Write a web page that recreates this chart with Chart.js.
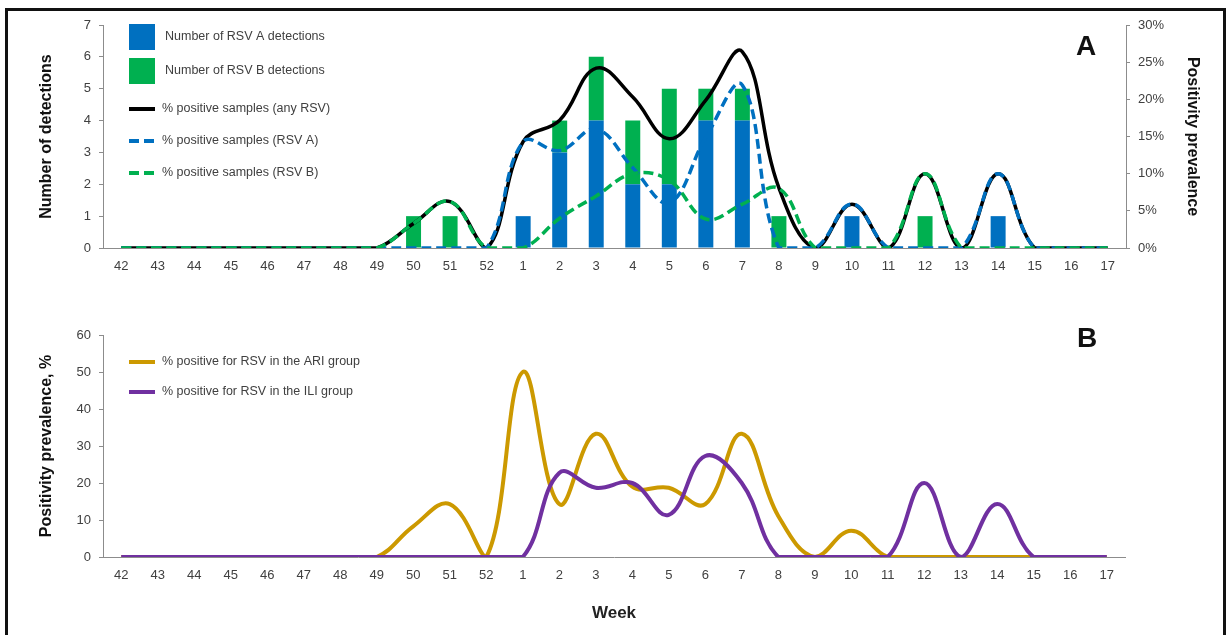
<!DOCTYPE html>
<html>
<head>
<meta charset="utf-8">
<script src="https://cdn.jsdelivr.net/npm/chart.js@4.4.0/dist/chart.umd.min.js"></script>
<style>
  body { margin: 0; background: #fff; width: 1227px; height: 635px; overflow: hidden; position: relative; }
  #frame { position: absolute; left: 5px; top: 8px; width: 1221px; height: 700px; border: 3px solid #111; box-sizing: border-box; }
  canvas { position: absolute; left: 0; }
  #chartA { top: 0; }
  #chartB { top: 290px; }
</style>
</head>
<body>
<div id="frame"></div>
<canvas id="chartA" width="1227" height="290"></canvas>
<canvas id="chartB" width="1227" height="345"></canvas>
<script>
// week labels (42..52 then 1..17)
const weeks = ["42", "43", "44", "45", "46", "47", "48", "49", "50", "51", "52",
  "1", "2", "3", "4", "5", "6", "7", "8", "9", "10", "11", "12", "13", "14", "15", "16", "17"];

// panel A - detections (counts)
const rsvA = [0, 0, 0, 0, 0, 0, 0, 0, 0, 0, 0, 1, 3, 4, 2, 2, 4, 4, 0, 0, 1, 0, 0, 0, 1, 0, 0, 0];
const rsvB = [0, 0, 0, 0, 0, 0, 0, 0, 1, 1, 0, 0, 1, 2, 2, 3, 1, 1, 1, 0, 0, 0, 1, 0, 0, 0, 0, 0];

// panel A - % positive samples
const pctAny = [0, 0, 0, 0, 0, 0, 0, 0, 3.3, 6.25, 0, 14.3, 17.2, 24.2, 20.3, 14.7, 19.9, 26.4, 8.1, 0, 5.9, 0, 10, 0, 10, 0, 0, 0];
const pctA = [0, 0, 0, 0, 0, 0, 0, 0, 0, 0, 0, 14.3, 13.1, 16, 10.8, 6.1, 14.9, 21.9, 0, 0, 5.9, 0, 0, 0, 10, 0, 0, 0];
const pctB = [0, 0, 0, 0, 0, 0, 0, 0, 3.3, 6.25, 0, 0, 4, 7, 10, 9.1, 3.9, 5.9, 8, 0, 0, 0, 10, 0, 0, 0, 0, 0];

// panel B - % positive by group
const pctARI = [0, 0, 0, 0, 0, 0, 0, 0, 8.3, 14.3, 0, 50, 14.3, 33.3, 19, 18.7, 14.3, 33.3, 11.1, 0, 7.1, 0, 0, 0, 0, 0, 0, 0];
const pctILI = [0, 0, 0, 0, 0, 0, 0, 0, 0, 0, 0, 0, 22.7, 18.7, 20, 11.4, 27.3, 20, 0, 0, 0, 0, 20, 0, 14.3, 0, 0, 0];

const BLUE = "#0070C0";
const GREEN = "#00B050";
const GOLD = "#CC9900";
const PURPLE = "#7030A0";
const AXIS = "#8c8c8c";
const TICK = "#404040";
const FONT = "'Liberation Sans', Arial, sans-serif";

// draws the legend block and the panel letter at fixed spots
const panelDecor = {
  id: "panelDecor",
  afterDraw(chart, args, opts) {
    const ctx = chart.ctx;
    ctx.save();
    ctx.textBaseline = "middle";
    ctx.font = "12.5px " + FONT;
    opts.items.forEach((item) => {
      const ds = chart.data.datasets[item.ds];
      if (item.kind === "box") {
        ctx.fillStyle = ds.backgroundColor;
        ctx.fillRect(129, item.y - 13, 26, 26);
        ctx.fillStyle = TICK;
        ctx.fillText(ds.label, 165, item.y);
      } else {
        ctx.strokeStyle = ds.borderColor;
        ctx.lineWidth = 4;
        ctx.setLineDash(ds.borderDash || []);
        ctx.beginPath();
        ctx.moveTo(129, item.y);
        ctx.lineTo(155, item.y);
        ctx.stroke();
        ctx.setLineDash([]);
        ctx.fillStyle = TICK;
        ctx.fillText(ds.label, 162, item.y);
      }
    });
    ctx.fillStyle = "#111";
    ctx.font = "bold 28px " + FONT;
    ctx.textAlign = "center";
    ctx.fillText(opts.letter.text, opts.letter.x, opts.letter.y);
    ctx.restore();
  },
};

const lineSet = (label, data, color, dash, order, axis, width) => ({
  type: "line",
  label: label,
  data: data,
  borderColor: color,
  backgroundColor: color,
  borderWidth: width,
  borderDash: dash,
  pointRadius: 0,
  tension: 0.4,
  fill: false,
  order: order,
  yAxisID: axis,
});

const leftAxis = (title, max, step) => ({
  position: "left",
  min: 0,
  max: max,
  afterFit: (s) => { s.width = 66; },
  ticks: { stepSize: step, padding: 8, color: TICK, font: { size: 13, family: FONT } },
  grid: { drawOnChartArea: false, drawTicks: true, tickLength: 4, color: AXIS },
  border: { display: true, color: AXIS, width: 1 },
  title: { display: true, text: title, color: "#111", padding: 0, font: { size: 16, weight: "bold", family: FONT } },
});

new Chart(document.getElementById("chartA"), {
  type: "bar",
  data: {
    labels: weeks,
    datasets: [
      { label: "Number of RSV A detections", data: rsvA, backgroundColor: BLUE, barPercentage: 0.41, categoryPercentage: 1, order: 4, yAxisID: "y" },
      { label: "Number of RSV B detections", data: rsvB, backgroundColor: GREEN, barPercentage: 0.41, categoryPercentage: 1, order: 5, yAxisID: "y" },
      lineSet("% positive samples (any RSV)", pctAny, "#000", [], 3, "y1", 3.5),
      lineSet("% positive samples (RSV A)", pctA, BLUE, [10, 5], 2, "y1", 3.5),
      lineSet("% positive samples (RSV B)", pctB, GREEN, [10, 5], 1, "y1", 3.5),
    ],
  },
  options: {
    responsive: false,
    animation: false,
    layout: { padding: { left: 37, right: 25, top: 25, bottom: 0 } },
    plugins: {
      legend: { display: false },
      tooltip: { enabled: false },
      panelDecor: {
        items: [
          { ds: 0, kind: "box", y: 37 },
          { ds: 1, kind: "box", y: 71 },
          { ds: 2, kind: "line", y: 109 },
          { ds: 3, kind: "line", y: 141 },
          { ds: 4, kind: "line", y: 173 },
        ],
        letter: { text: "A", x: 1086, y: 47 },
      },
    },
    scales: {
      x: {
        stacked: true,
        afterFit: (s) => { s.height = 42; },
        ticks: { padding: 11, color: TICK, font: { size: 13, family: FONT } },
        grid: { display: false, drawTicks: false },
        border: { display: true, color: AXIS, width: 1 },
      },
      y: { ...leftAxis("Number of detections", 7, 1), stacked: true },
      y1: {
        position: "right",
        min: 0,
        max: 30,
        afterFit: (s) => { s.width = 76; },
        ticks: { stepSize: 5, padding: 8, color: TICK, font: { size: 13, family: FONT }, callback: (v) => v + "%" },
        grid: { drawOnChartArea: false, drawTicks: true, tickLength: 4, color: AXIS },
        border: { display: true, color: AXIS, width: 1 },
        title: { display: true, text: "Positivity prevalence", color: "#111", padding: 0, font: { size: 16, weight: "bold", family: FONT } },
      },
    },
  },
  plugins: [panelDecor],
});

new Chart(document.getElementById("chartB"), {
  type: "line",
  data: {
    labels: weeks,
    datasets: [
      lineSet("% positive for RSV in the ARI group", pctARI, GOLD, [], 2, "y", 4),
      lineSet("% positive for RSV in the ILI group", pctILI, PURPLE, [], 1, "y", 4),
    ],
  },
  options: {
    responsive: false,
    animation: false,
    layout: { padding: { left: 37, right: 102, top: 45, bottom: 0 } },
    plugins: {
      legend: { display: false },
      tooltip: { enabled: false },
      panelDecor: {
        items: [
          { ds: 0, kind: "line", y: 72 },
          { ds: 1, kind: "line", y: 102 },
        ],
        letter: { text: "B", x: 1087, y: 49 },
      },
    },
    scales: {
      x: {
        offset: true,
        afterFit: (s) => { s.height = 78; },
        ticks: { padding: 11, color: TICK, font: { size: 13, family: FONT } },
        grid: { display: false, drawTicks: false },
        border: { display: true, color: AXIS, width: 1 },
        title: { display: true, text: "Week", color: "#222", padding: { top: 0, bottom: 11 }, font: { size: 17, weight: "bold", family: FONT } },
      },
      y: leftAxis("Positivity prevalence, %", 60, 10),
    },
  },
  plugins: [panelDecor],
});
</script>
</body>
</html>
